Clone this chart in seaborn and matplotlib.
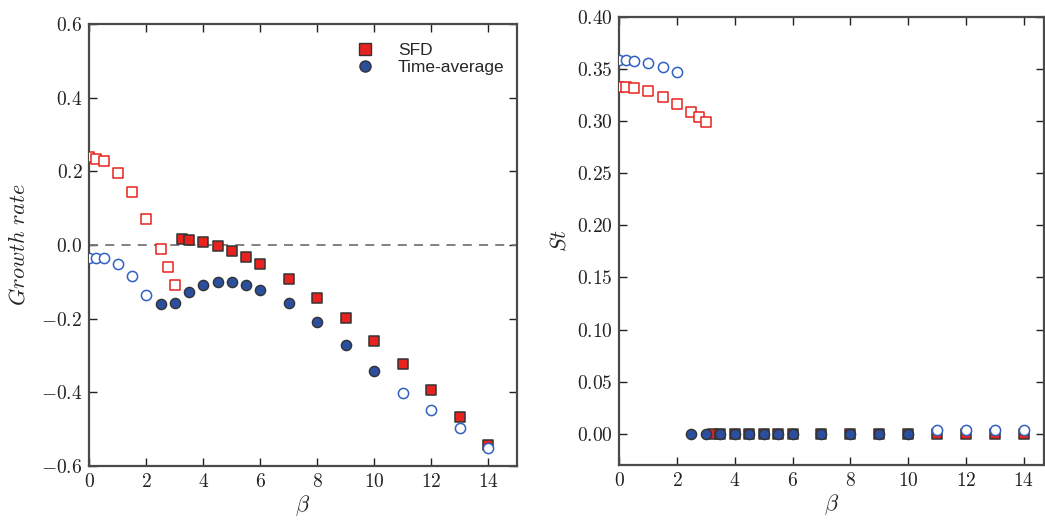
import pandas as pd
import seaborn as sns
import matplotlib.pyplot as plt
from matplotlib.lines import Line2D
from matplotlib.ticker import FuncFormatter, MultipleLocator

# SFD results
beta_sfd = [0, 0.25, 0.5, 1, 1.5, 2, 2.5, 2.75, 3, 3.25, 3.5, 4, 4.5, 5, 5.5, 6,
            7, 8, 9, 10, 11, 12, 13, 14]
growth_sfd = [0.239, 0.235, 0.227, 0.195, 0.143, 0.072, -0.012, -0.059, -0.108,
              0.015, 0.014, 0.009, -0.003, -0.015, -0.032, -0.052,
              -0.092, -0.144, -0.198, -0.261, -0.324, -0.393, -0.467, -0.545]
st_sfd = [0.333, 0.333, 0.3314, 0.3288, 0.3234, 0.3167, 0.3087, 0.3039, 0.2994,
          0, 0, 0, 0, 0, 0, 0, 0, 0, 0, 0, 0, 0, 0, 0]
filled_sfd = [False] * 9 + [True] * 15

# time-average results
beta_ta = [0, 0.25, 0.5, 1, 1.5, 2, 2.5, 3, 3.5, 4, 4.5, 5, 5.5, 6,
           7, 8, 9, 10, 11, 12, 13, 14]
growth_ta = [-0.036, -0.036, -0.036, -0.051, -0.083, -0.135, -0.161, -0.159,
             -0.127, -0.108, -0.100, -0.100, -0.109, -0.122,
             -0.157, -0.209, -0.272, -0.342, -0.401, -0.448, -0.498, -0.553]
st_ta = [0.3585, 0.3585, 0.358, 0.3557, 0.3518, 0.3467,
         0, 0, 0, 0, 0, 0, 0, 0, 0, 0, 0, 0,
         0.0034, 0.0034, 0.0034, 0.0034]
filled_ta = [False] * 6 + [True] * 12 + [False] * 4

sfd = pd.DataFrame({'beta': beta_sfd, 'growth': growth_sfd, 'st': st_sfd, 'filled': filled_sfd})
ta = pd.DataFrame({'beta': beta_ta, 'growth': growth_ta, 'st': st_ta, 'filled': filled_ta})

RED = '#e8221e'
BLUE = '#2b4e9e'
BLUE_EDGE = '#3060c0'
EDGE = '#333333'

sns.set_style('ticks')
plt.rcParams['mathtext.fontset'] = 'cm'
plt.rcParams['font.family'] = ['Liberation Sans', 'DejaVu Sans']

fig = plt.figure(figsize=(10.45, 5.21), dpi=100)
ax1 = fig.add_axes([0.0855, 0.1061, 0.4089, 0.8473])
ax2 = fig.add_axes([0.5926, 0.1075, 0.4064, 0.8600])


def draw(ax, col):
    d = sfd[~sfd.filled]
    sns.scatterplot(data=d, x='beta', y=col, ax=ax, marker='s', s=58,
                    color='white', edgecolor=RED, linewidth=1.1, zorder=3)
    d = sfd[sfd.filled]
    sns.scatterplot(data=d, x='beta', y=col, ax=ax, marker='s', s=58,
                    color=RED, edgecolor=EDGE, linewidth=1.1, zorder=3)
    d = ta[ta.filled]
    sns.scatterplot(data=d, x='beta', y=col, ax=ax, marker='o', s=54,
                    color=BLUE, edgecolor=EDGE, linewidth=1.0, zorder=4)
    d = ta[~ta.filled]
    sns.scatterplot(data=d, x='beta', y=col, ax=ax, marker='o', s=54,
                    color='white', edgecolor=BLUE_EDGE, linewidth=1.1, zorder=4)


draw(ax1, 'growth')
draw(ax2, 'st')

ax1.axhline(0, color='#777777', ls=(0, (5, 4)), lw=1.3, zorder=1)
ax1.set_xlim(0, 15)
ax1.set_ylim(-0.6, 0.6)
ax1.xaxis.set_major_locator(MultipleLocator(2))
ax1.yaxis.set_major_locator(MultipleLocator(0.2))
ax1.xaxis.set_major_formatter(FuncFormatter(lambda v, p: f'${v:.0f}$'))
ax1.yaxis.set_major_formatter(FuncFormatter(lambda v, p: f'${v:.1f}$'))
ax1.set_xlabel(r'$\beta$', fontsize=16, labelpad=2)
ax1.set_ylabel(r'$Growth\ rate$', fontsize=16, labelpad=8)

ax2.set_xlim(0, 14.7)
ax2.set_ylim(-0.03, 0.40)
ax2.xaxis.set_major_locator(MultipleLocator(2))
ax2.yaxis.set_major_locator(MultipleLocator(0.05))
ax2.xaxis.set_major_formatter(FuncFormatter(lambda v, p: f'${v:.0f}$'))
ax2.yaxis.set_major_formatter(FuncFormatter(lambda v, p: f'${v:.2f}$'))
ax2.set_xlabel(r'$\beta$', fontsize=16, labelpad=2)
ax2.set_ylabel(r'$St$', fontsize=16, labelpad=4)

for ax in (ax1, ax2):
    for sp in ax.spines.values():
        sp.set_visible(True)
        sp.set_color('#4a4a4a')
        sp.set_linewidth(1.6)
    ax.tick_params(direction='in', length=6, width=1, top=True, right=True,
                   labelsize=14, colors='#222222', pad=5)

handles = [
    Line2D([], [], ls='none', marker='s', ms=8, mfc=RED, mec=EDGE, mew=1.0),
    Line2D([], [], ls='none', marker='o', ms=8, mfc=BLUE, mec=EDGE, mew=1.0),
]
ax1.legend(handles, ['SFD', 'Time-average'], loc='upper right',
           bbox_to_anchor=(1.0, 0.985), frameon=False, fontsize=12.5,
           handletextpad=0.9, borderaxespad=0.3, labelspacing=0.1)

fig.savefig('out.png', dpi=100)
